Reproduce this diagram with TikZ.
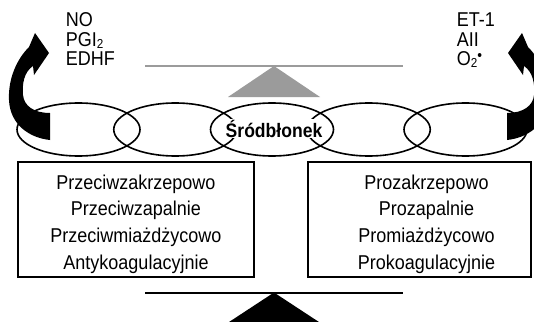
\documentclass[tikz,border=0pt]{standalone}
\usepackage{fontspec}
\setmainfont[FakeStretch=0.9]{Liberation Sans}
\usetikzlibrary{shapes.geometric}
\definecolor{balgray}{RGB}{155,155,155}
\newcommand\subtwo{\raisebox{-2pt}{\fontsize{13}{13}\selectfont 2}}
\newcommand\radicaldot{\raisebox{5pt}{\fontsize{15}{15}\selectfont\textbullet}}
\begin{document}
\begin{tikzpicture}[x=1pt,y=-1pt,
  txt/.style={font=\fontsize{20}{22}\selectfont, inner sep=0pt},
  lab/.style={font=\fontsize{20}{19.5}\selectfont, inner sep=0pt, anchor=north west, align=left},
  ell/.style={draw, ellipse, line width=1.6pt, minimum width=123pt, minimum height=53pt, inner sep=0pt, outer sep=0pt},
  panel/.style={draw, line width=1.2pt, rectangle, inner sep=0pt, minimum height=115pt},
  beam/.style={line width=2pt},
  bigarrow/.style={fill=black}]
\useasboundingbox (0,0) rectangle (534,321);
\clip (0,0) rectangle (534,321);

% upper (gray) balance
\coordinate (gl) at (145,66);
\coordinate (gr) at (403,66);
\coordinate (ga) at (274,66);
\coordinate (gb1) at (228,97);
\coordinate (gb2) at (320,97);
\draw[beam, balgray] (gl) -- (gr);
\fill[balgray] (ga) -- (gb1) -- (gb2) -- cycle;

% lower (black) balance
\coordinate (bl) at (145,292.5);
\coordinate (br) at (403,292.5);
\coordinate (ba) at (274,292.5);
\coordinate (bb1) at (226,324);
\coordinate (bb2) at (322,324);
\draw[beam] (bl) -- (br);
\fill (ba) -- (bb1) -- (bb2) -- cycle;

% chain of ellipses
\node[ell] (e1) at (78.5,129.5) {};
\node[ell] (e2) at (175.25,129.5) {};
\node[ell] (e3) at (272,129.5) {};
\node[ell] (e4) at (368.75,129.5) {};
\node[ell] (e5) at (465.5,129.5) {};
\node[txt, font=\fontsize{19.5}{21}\selectfont\bfseries, fill=white, inner sep=0.6pt, anchor=base] (sr) at (274,137) {Śródbłonek};

% panels
\node[panel, minimum width=236pt] (lbox) at (136,219.5) {};
\node[panel, minimum width=223pt] (rbox) at (419.5,219.5) {};
\foreach \t [count=\i] in {Przeciwzakrzepowo, Przeciwzapalnie, Przeciwmiażdżycowo, Antykoagulacyjnie}
  \node[txt, anchor=base] (lt\i) at (136,{189+26.7*(\i-1)}) {\t};
\foreach \t [count=\i] in {Prozakrzepowo, Prozapalnie, Promiażdżycowo, Prokoagulacyjnie}
  \node[txt, anchor=base] (rt\i) at (426.5,{189+26.7*(\i-1)}) {\t};

% mediator labels
\node[lab] (left mediators) at (65.7,12.6) {NO\\PGI\subtwo\\EDHF};
\node[lab] (right mediators) at (456.7,12.6) {ET-1\\AII\\O\subtwo\radicaldot};

% curved arrows
\fill[bigarrow] (50,113) -- (50,140) .. controls (30,138) and (10,125) .. (9,100)
  .. controls (8,80) and (16,60) .. (29,47) -- (35,33) -- (49,53) -- (34,75) -- (33,66)
  .. controls (24,72) and (22,84) .. (23,95) .. controls (24,106) and (34,113) .. (50,113) -- cycle;
\fill[bigarrow] (507,113) -- (507,140) .. controls (527,138) and (547,125) .. (548,100)
  .. controls (549,80) and (541,60) .. (528,47) -- (522,33) -- (508,53) -- (523,75) -- (524,66)
  .. controls (533,72) and (535,84) .. (534,95) .. controls (533,106) and (523,113) .. (507,113) -- cycle;
\end{tikzpicture}
\end{document}
